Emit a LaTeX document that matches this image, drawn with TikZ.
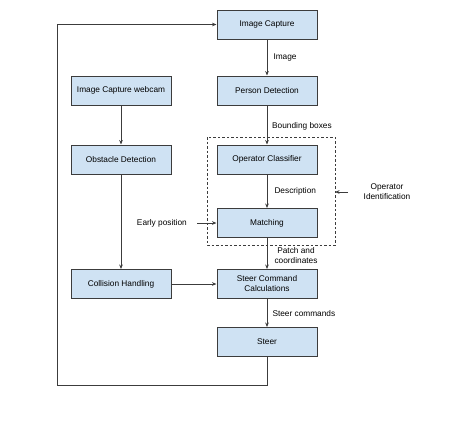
\documentclass[tikz,border=0pt]{standalone}
\usepackage{fontspec}
\setmainfont{Liberation Sans}
\usetikzlibrary{arrows.meta}
\definecolor{boxfill}{RGB}{207,226,243}
\definecolor{edge}{RGB}{60,60,60}
\begin{document}
\begin{tikzpicture}[x=1pt,y=-1pt,
  blk/.style={draw=edge,line width=1pt,fill=boxfill,minimum width=100pt,minimum height=29pt,inner sep=0pt,align=center,font=\fontsize{8.3}{10}\selectfont},
  lbl/.style={font=\fontsize{8.3}{10}\selectfont,inner sep=0pt,align=center},
  arr/.style={draw=edge,line width=1pt,-{Stealth[length=4.5pt,width=3.6pt]}}]
\useasboundingbox (0,0) rectangle (471,424);
\node[blk] (ic) at (267,24.5) {Image Capture};
\node[blk] (pd) at (267,90.5) {Person Detection};
\node[blk] (icw) at (121,90.5) {Image Capture webcam};
\node[blk] (od) at (121,159.5) {Obstacle Detection};
\node[blk] (oc) at (267,159.5) {Operator Classifier};
\node[blk] (ma) at (267,223) {Matching};
\node[blk] (ch) at (121,284) {Collision Handling};
\node[blk] (sc) at (267,284) {Steer Command\\Calculations};
\node[blk] (st) at (267,342) {Steer};
\draw[edge,line width=0.8pt,dash pattern=on 2.5pt off 2pt] (207,137) rectangle (335,245);
\coordinate (dbr) at (335,192);
\coordinate (oitail) at (348,192);
\node[lbl] (oi) at (387,192) {Operator\\Identification};
\draw[arr] (oitail) -- (dbr);
\draw[arr] (ic) -- node[lbl,anchor=west,xshift=6pt] {Image} (pd);
\draw[arr] (pd) -- (oc);
\node[lbl,anchor=west] (bb) at (272,126) {Bounding boxes};
\draw[arr] (oc) -- node[lbl,anchor=west,xshift=7pt] {Description} (ma);
\draw[arr] (ma) -- (sc);
\node[lbl] (pc) at (296,256) {Patch and\\coordinates};
\draw[arr] (sc) -- node[lbl,anchor=west,xshift=5pt,yshift=-1pt] {Steer commands} (st);
\draw[arr] (icw) -- (od);
\draw[arr] (od) -- (ch);
\draw[arr] (ch) -- (sc);
\node[lbl,anchor=east] (ep) at (187,223) {Early position};
\coordinate (eptail) at (197,223);
\draw[arr] (eptail) -- (ma);
\coordinate (lb) at (57,385);
\coordinate (lt) at (57,24.5);
\draw[arr] (st) |- (lb) -- (lt) -- (ic);
\end{tikzpicture}
\end{document}
